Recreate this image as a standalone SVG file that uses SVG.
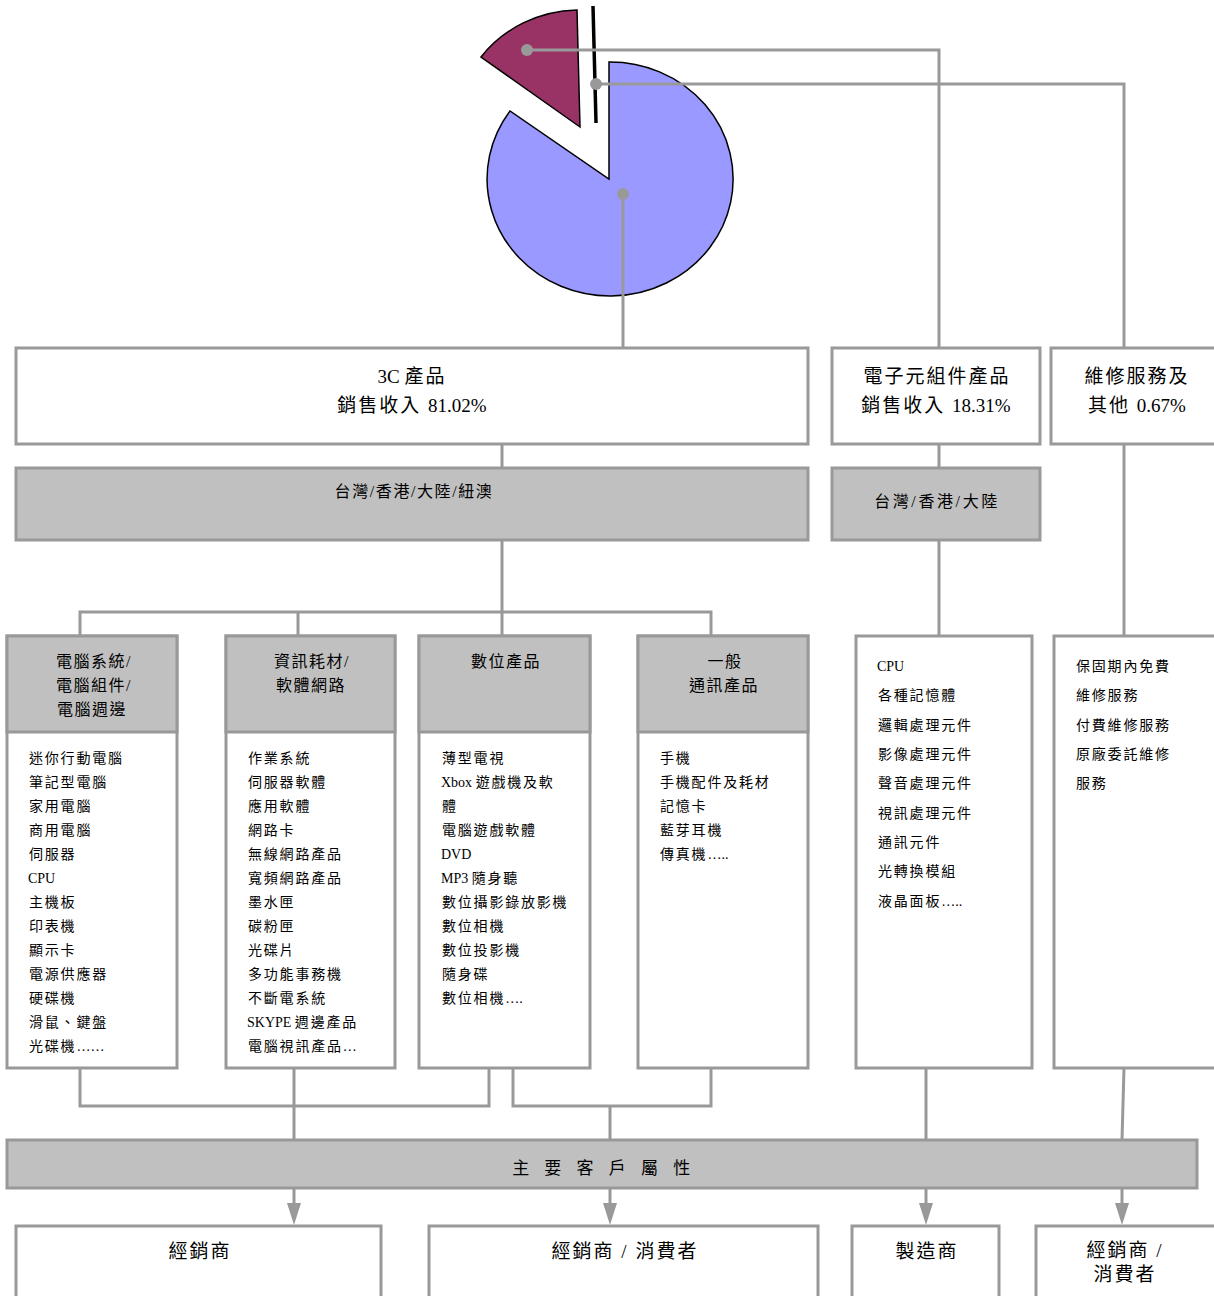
<svg xmlns="http://www.w3.org/2000/svg" width="1214" height="1296" viewBox="0 0 1214 1296">
<style>
text{font-family:"Liberation Serif","Noto Sans CJK TC",serif;fill:#000}
.box{fill:#fff;stroke:#999;stroke-width:3}
.gbox{fill:#c0c0c0;stroke:#999;stroke-width:3}
.con{fill:none;stroke:#999;stroke-width:3}
.big{font-size:19px;letter-spacing:2px;text-anchor:middle}
.hd{font-size:16px;letter-spacing:1.5px;text-anchor:middle}
.li{font-size:14px;letter-spacing:1.8px}
.lat{letter-spacing:0}
.dot{fill:#999}
.arw{fill:#999}
</style>

<g id="pie">
<path d="M609,179 L609,62 A123,117 0 1,1 510,111 Z" fill="#9999ff" stroke="#000" stroke-width="1.5"/>
<path d="M580,127 L481,57 A123,117 0 0,1 577,10 Z" fill="#993366" stroke="#000" stroke-width="1.5"/>
<line x1="593" y1="6" x2="596" y2="123" stroke="#000" stroke-width="3.5"/>
</g>

<g id="connectors">
<path class="con" d="M527,50 H939 V348"/>
<path class="con" d="M596,84 H1124 V348"/>
<path class="con" d="M623,194 V348"/>
<path class="con" d="M502,444 V468"/>
<path class="con" d="M502,540 V612"/>
<path class="con" d="M939,444 V468"/>
<path class="con" d="M939,540 V636"/>
<path class="con" d="M1124,444 V636"/>
<path class="con" d="M80,636 V612 H711 V636"/>
<path class="con" d="M298,612 V636"/>
<path class="con" d="M502,612 V636"/>
<path class="con" d="M80,1068 V1106 H489 V1068"/>
<path class="con" d="M513,1068 V1106 H711 V1068"/>
<path class="con" d="M610,1106 V1140"/>
<path class="con" d="M294,1068 V1140"/>
<path class="con" d="M926,1068 V1140"/>
<path class="con" d="M1124,1068 L1122,1140"/>
<path class="con" d="M294,1188 V1206"/>
<path class="con" d="M610,1188 V1206"/>
<path class="con" d="M926,1188 V1206"/>
<path class="con" d="M1122,1188 V1206"/>
<polygon class="arw" points="287,1203 301,1203 294,1225"/>
<polygon class="arw" points="603,1203 617,1203 610,1225"/>
<polygon class="arw" points="919,1203 933,1203 926,1225"/>
<polygon class="arw" points="1115,1203 1129,1203 1122,1225"/>
<circle class="dot" cx="527" cy="50" r="6"/>
<circle class="dot" cx="596" cy="84" r="6"/>
<circle class="dot" cx="623" cy="194" r="6"/>
</g>

<g id="n3c">
<rect class="box" x="16" y="348" width="792" height="96"/>
<text class="big" x="412" y="383"><tspan class="lat">3C </tspan>產品</text>
<text class="big" x="412" y="412">銷售收入 <tspan class="lat">81.02%</tspan></text>
</g>
<g id="nelec">
<rect class="box" x="832" y="348" width="208" height="96"/>
<text class="big" x="937" y="383">電子元組件產品</text>
<text class="big" x="936" y="412">銷售收入 <tspan class="lat">18.31%</tspan></text>
</g>
<g id="nmaint">
<rect class="box" x="1051" y="348" width="170" height="96"/>
<text class="big" x="1137" y="383">維修服務及</text>
<text class="big" x="1137" y="412">其他 <tspan class="lat">0.67%</tspan></text>
</g>

<g id="region1">
<rect class="gbox" x="16" y="468" width="792" height="72"/>
<text x="414" y="497" style="font-size:16px;letter-spacing:1.6px;text-anchor:middle">台灣/香港/大陸/紐澳</text>
</g>
<g id="region2">
<rect class="gbox" x="832" y="468" width="208" height="72"/>
<text x="937" y="507" style="font-size:16px;letter-spacing:2.6px;text-anchor:middle">台灣/香港/大陸</text>
</g>

<g id="cat1">
<rect class="box" x="7" y="636" width="170" height="432"/>
<rect class="gbox" x="7" y="636" width="170" height="96"/>
<text class="hd" x="94" y="667">電腦系統/</text>
<text class="hd" x="94" y="691">電腦組件/</text>
<text class="hd" x="92" y="715">電腦週邊</text>
<text class="li" x="29" y="763">迷你行動電腦</text>
<text class="li" x="29" y="787">筆記型電腦</text>
<text class="li" x="29" y="811">家用電腦</text>
<text class="li" x="29" y="835">商用電腦</text>
<text class="li" x="29" y="859">伺服器</text>
<text class="li lat" x="28" y="883">CPU</text>
<text class="li" x="29" y="907">主機板</text>
<text class="li" x="29" y="931">印表機</text>
<text class="li" x="29" y="955">顯示卡</text>
<text class="li" x="29" y="979">電源供應器</text>
<text class="li" x="29" y="1003">硬碟機</text>
<text class="li" x="29" y="1027">滑鼠、鍵盤</text>
<text class="li" x="29" y="1051">光碟機<tspan class="lat">……</tspan></text>
</g>

<g id="cat2">
<rect class="box" x="226" y="636" width="169" height="432"/>
<rect class="gbox" x="226" y="636" width="169" height="96"/>
<text class="hd" x="312" y="667">資訊耗材/</text>
<text class="hd" x="311" y="691">軟體網路</text>
<text class="li" x="248" y="763">作業系統</text>
<text class="li" x="248" y="787">伺服器軟體</text>
<text class="li" x="248" y="811">應用軟體</text>
<text class="li" x="248" y="835">網路卡</text>
<text class="li" x="248" y="859">無線網路產品</text>
<text class="li" x="248" y="883">寬頻網路產品</text>
<text class="li" x="248" y="907">墨水匣</text>
<text class="li" x="248" y="931">碳粉匣</text>
<text class="li" x="248" y="955">光碟片</text>
<text class="li" x="248" y="979">多功能事務機</text>
<text class="li" x="248" y="1003">不斷電系統</text>
<text class="li" x="247" y="1027"><tspan class="lat">SKYPE </tspan>週邊產品</text>
<text class="li" x="248" y="1051">電腦視訊產品<tspan class="lat">…</tspan></text>
</g>

<g id="cat3">
<rect class="box" x="419" y="636" width="171" height="432"/>
<rect class="gbox" x="419" y="636" width="171" height="96"/>
<text class="hd" x="506" y="667">數位產品</text>
<text class="li" x="442" y="763">薄型電視</text>
<text class="li" x="441" y="787"><tspan class="lat">Xbox </tspan>遊戲機及軟</text>
<text class="li" x="442" y="811">體</text>
<text class="li" x="442" y="835">電腦遊戲軟體</text>
<text class="li lat" x="441" y="859">DVD</text>
<text class="li" x="441" y="883"><tspan class="lat">MP3 </tspan>隨身聽</text>
<text class="li" x="442" y="907">數位攝影錄放影機</text>
<text class="li" x="442" y="931">數位相機</text>
<text class="li" x="442" y="955">數位投影機</text>
<text class="li" x="442" y="979">隨身碟</text>
<text class="li" x="442" y="1003">數位相機<tspan class="lat">….</tspan></text>
</g>

<g id="cat4">
<rect class="box" x="638" y="636" width="170" height="432"/>
<rect class="gbox" x="638" y="636" width="170" height="96"/>
<text class="hd" x="725" y="667">一般</text>
<text class="hd" x="724" y="691">通訊產品</text>
<text class="li" x="660" y="763">手機</text>
<text class="li" x="660" y="787">手機配件及耗材</text>
<text class="li" x="660" y="811">記憶卡</text>
<text class="li" x="660" y="835">藍芽耳機</text>
<text class="li" x="660" y="859">傳真機<tspan class="lat">…..</tspan></text>
</g>

<g id="elec-list">
<rect class="box" x="856" y="636" width="176" height="432"/>
<text class="li lat" x="877" y="671">CPU</text>
<text class="li" x="878" y="700">各種記憶體</text>
<text class="li" x="878" y="730">邏輯處理元件</text>
<text class="li" x="878" y="759">影像處理元件</text>
<text class="li" x="878" y="788">聲音處理元件</text>
<text class="li" x="878" y="818">視訊處理元件</text>
<text class="li" x="878" y="847">通訊元件</text>
<text class="li" x="878" y="876">光轉換模組</text>
<text class="li" x="878" y="906">液晶面板<tspan class="lat">…..</tspan></text>
</g>

<g id="maint-list">
<rect class="box" x="1054" y="636" width="166" height="432"/>
<text class="li" x="1076" y="671">保固期內免費</text>
<text class="li" x="1076" y="700">維修服務</text>
<text class="li" x="1076" y="730">付費維修服務</text>
<text class="li" x="1076" y="759">原廠委託維修</text>
<text class="li" x="1076" y="788">服務</text>
</g>

<g id="customers">
<rect class="gbox" x="7" y="1140" width="1190" height="48"/>
<text x="604" y="1174" style="font-size:17px;letter-spacing:5.5px;text-anchor:middle">主 要 客 戶 屬 性</text>
</g>

<g id="c1">
<rect class="box" x="16" y="1226" width="365" height="90"/>
<text class="big" x="200" y="1258">經銷商</text>
</g>
<g id="c2">
<rect class="box" x="429" y="1226" width="389" height="90"/>
<text class="big" x="625" y="1258">經銷商 / 消費者</text>
</g>
<g id="c3">
<rect class="box" x="852" y="1226" width="147" height="90"/>
<text class="big" x="927" y="1258">製造商</text>
</g>
<g id="c4">
<rect class="box" x="1036" y="1226" width="184" height="90"/>
<text class="big" x="1125" y="1257">經銷商 /</text>
<text class="big" x="1125" y="1281">消費者</text>
</g>
</svg>
